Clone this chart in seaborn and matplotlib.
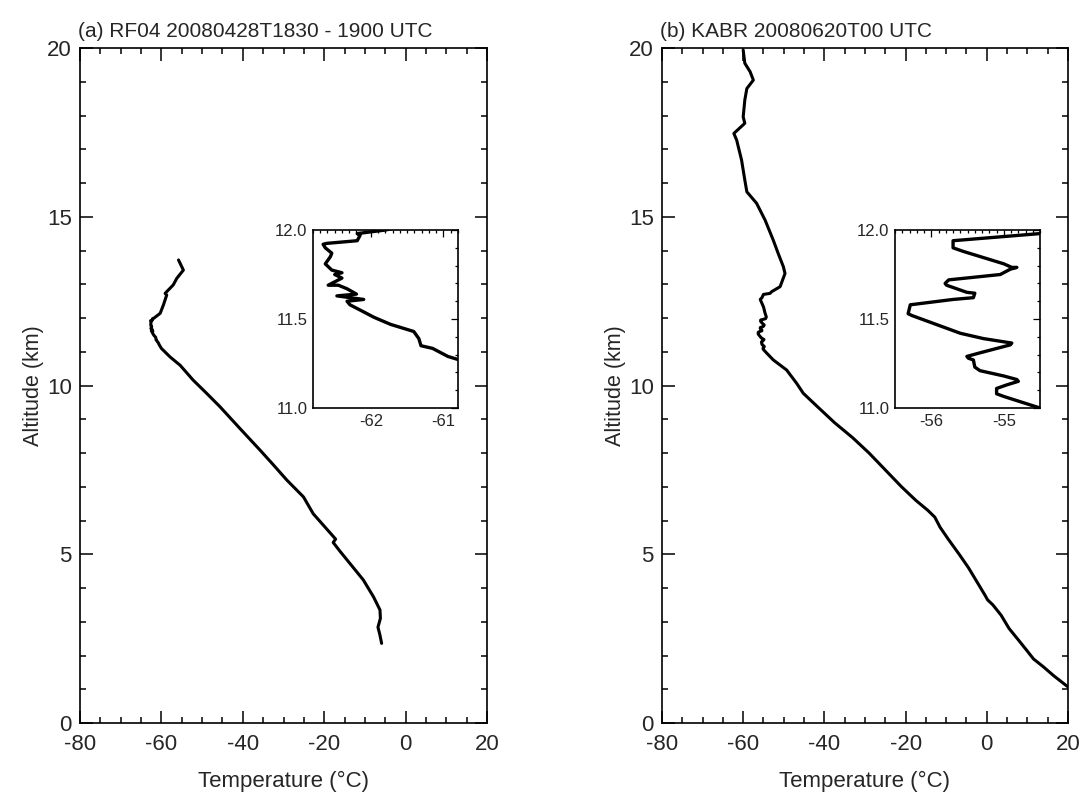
import numpy as np
import pandas as pd
import matplotlib
matplotlib.use("Agg")
import matplotlib.pyplot as plt
import seaborn as sns
from matplotlib.ticker import MultipleLocator, FormatStrFormatter

# ---------------- data ----------------
# (a) RF04 aircraft profile: temperature (degC) and altitude (km)
temp_a = [-5.9, -6.3, -6.8, -6.2, -6.3, -7.9, -10.4, -13.5, -16.2, -17.8, -17.2, -18.3,
          -20.5, -22.7, -25.1, -29.2, -32.5, -35.8, -40.5, -45.6, -48.9, -52.2, -55.4,
          -57.9, -60.0, -60.5, -60.78, -60.94, -61.15, -61.31, -61.34, -61.41, -61.73,
          -61.96, -62.10, -62.29, -62.33, -62.10, -62.47, -62.20, -62.33, -62.45, -62.59,
          -62.40, -62.50, -62.40, -62.54, -62.63, -62.56, -62.54, -62.63, -62.66, -62.61,
          -62.19, -62.15, -62.19, -61.80, -60.3, -59.5, -58.7, -59.1, -57.1, -56.2, -54.6,
          -55.4, -55.8]
alt_a = [2.36, 2.60, 2.84, 3.10, 3.35, 3.74, 4.24, 4.70, 5.10, 5.35, 5.45, 5.60,
         5.90, 6.20, 6.70, 7.20, 7.65, 8.09, 8.70, 9.37, 9.77, 10.16, 10.60,
         10.85, 11.10, 11.20, 11.27, 11.29, 11.335, 11.35, 11.39, 11.43, 11.47,
         11.51, 11.54, 11.58, 11.60, 11.61, 11.63, 11.64, 11.67, 11.69, 11.69,
         11.73, 11.75, 11.76, 11.775, 11.81, 11.85, 11.87, 11.90, 11.92, 11.925,
         11.94, 11.97, 11.98, 12.00, 12.14, 12.39, 12.68, 12.73, 12.98, 13.18, 13.42,
         13.62, 13.72]

# (b) KABR radiosonde profile
temp_b = [19.9, 16.5, 13.9, 11.5, 9.8, 7.8, 5.5, 3.5, 1.5, 0.2, -0.5, -2.5, -4.5, -6.8,
          -9.5, -11.5, -12.8, -14.5, -17.5, -21.0, -25.0, -29.0, -33.0, -37.5, -41.5,
          -45.2, -46.8, -49.3, -52.6, -54.2,
          -54.50, -55.00, -55.10, -55.10, -54.96, -54.80, -54.82, -55.00, -55.33, -55.40,
          -55.42, -55.49, -55.51, -55.33, -54.91, -54.89, -55.28, -55.60, -56.27, -56.32,
          -56.29, -55.70, -55.42, -55.40, -55.51, -55.79, -55.81, -55.76, -55.05, -54.91,
          -54.82, -54.89, -55.00, -55.56, -55.70, -55.70, -54.50, -54.30,
          -54.6, -55.0, -55.8, -55.4, -55.0, -53.4, -53.0, -50.9, -49.7, -50.1, -51.4,
          -52.6, -54.6, -56.7, -59.1, -59.6, -60.4, -61.6, -62.3, -59.6, -60.0, -59.6,
          -59.1, -57.5, -58.3, -59.6, -60.0]
alt_b = [1.08, 1.40, 1.67, 1.90, 2.16, 2.46, 2.80, 3.20, 3.50, 3.65, 3.80, 4.20, 4.60, 5.00,
         5.45, 5.80, 6.10, 6.30, 6.60, 7.00, 7.50, 8.00, 8.45, 8.90, 9.35,
         9.77, 10.06, 10.46, 10.76, 10.96,
         11.00, 11.065, 11.08, 11.11, 11.13, 11.15, 11.16, 11.18, 11.21, 11.23,
         11.27, 11.28, 11.29, 11.31, 11.355, 11.365, 11.39, 11.42, 11.52, 11.53,
         11.58, 11.61, 11.62, 11.645, 11.65, 11.69, 11.70, 11.72, 11.75, 11.78,
         11.79, 11.79, 11.81, 11.88, 11.90, 11.94, 11.98, 12.03,
         12.14, 12.33, 12.55, 12.60, 12.70, 12.73, 12.78, 12.93, 13.32, 13.52, 13.92,
         14.31, 14.90, 15.40, 15.74, 16.09, 16.68, 17.27, 17.47, 17.77, 17.96, 18.46,
         18.80, 19.05, 19.30, 19.55, 19.94]

titles = ["(a) RF04 20080428T1830 - 1900 UTC", "(b) KABR 20080620T00 UTC"]
xlabel = "Temperature (°C)"
ylabel = "Altitude (km)"
inset_xlims = [(-62.8, -60.8), (-56.5, -54.5)]

df_a = pd.DataFrame({"T": temp_a, "z": alt_a})
df_b = pd.DataFrame({"T": temp_b, "z": alt_b})

# ---------------- style ----------------
sns.set_style("white")
plt.rcParams["font.family"] = ["Liberation Sans", "DejaVu Sans"]
plt.rcParams["axes.linewidth"] = 1.2
plt.rcParams["axes.unicode_minus"] = False

fig = plt.figure(figsize=(10.84, 7.94), dpi=100)
main_pos = [[0.0738, 0.0894, 0.3755, 0.8501], [0.6107, 0.0894, 0.3745, 0.8501]]
inset_pos = [[0.2887, 0.4861, 0.1338, 0.2242], [0.8257, 0.4861, 0.1338, 0.2242]]

for i, df in enumerate([df_a, df_b]):
    ax = fig.add_axes(main_pos[i])
    sns.lineplot(data=df, x="T", y="z", sort=False, estimator=None, ax=ax,
                 color="black", lw=2.2)
    ax.set_xlim(-80, 20)
    ax.set_ylim(0, 20)
    ax.xaxis.set_major_locator(MultipleLocator(20))
    ax.xaxis.set_minor_locator(MultipleLocator(5))
    ax.yaxis.set_major_locator(MultipleLocator(5))
    ax.yaxis.set_minor_locator(MultipleLocator(1))
    ax.tick_params(which="both", direction="in", top=True, right=True,
                   bottom=True, left=True, color="black", width=1.1)
    ax.tick_params(which="major", length=9, labelsize=16, pad=8)
    ax.tick_params(which="minor", length=4.5)
    ax.tick_params(axis="y", which="major", pad=6)
    ax.set_xlabel(xlabel, fontsize=16, labelpad=11)
    ax.set_ylabel(ylabel, fontsize=15.5, labelpad=2)
    ax.set_title(titles[i], fontsize=15, loc="left", pad=8, x=-0.006)
    for s in ax.spines.values():
        s.set_color("black")

    ins = fig.add_axes(inset_pos[i])
    sns.lineplot(data=df, x="T", y="z", sort=False, estimator=None, ax=ins,
                 color="black", lw=2.4)
    ins.set_xlim(*inset_xlims[i])
    ins.set_ylim(11.0, 12.0)
    ins.xaxis.set_major_locator(MultipleLocator(1))
    ins.xaxis.set_minor_locator(MultipleLocator(0.1))
    ins.yaxis.set_major_locator(MultipleLocator(0.5))
    ins.yaxis.set_minor_locator(MultipleLocator(0.1))
    ins.yaxis.set_major_formatter(FormatStrFormatter("%.1f"))
    ins.xaxis.set_major_formatter(FormatStrFormatter("%d"))
    ins.tick_params(which="both", direction="in", top=True, right=True,
                    color="black", width=0.9)
    ins.tick_params(which="major", length=5, labelsize=12, pad=4)
    ins.tick_params(which="minor", length=2.5)
    ins.set_xlabel("")
    ins.set_ylabel("")
    for s in ins.spines.values():
        s.set_color("black")
        s.set_linewidth(1.2)

fig.savefig("out.png", dpi=100)
